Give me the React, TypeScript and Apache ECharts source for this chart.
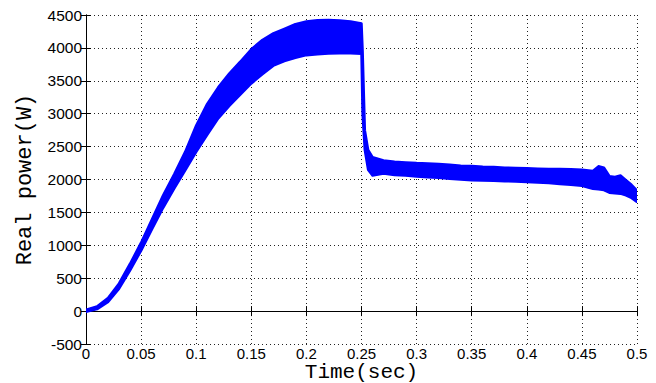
import React, { useEffect, useRef } from "react";
import * as echarts from "echarts";

const timeSec = [
  0, 0.01, 0.02, 0.03, 0.04, 0.05, 0.06, 0.07, 0.08, 0.09, 0.1, 0.11, 0.12, 0.13,
  0.14, 0.15, 0.16, 0.17, 0.18, 0.19, 0.2, 0.21, 0.22, 0.23, 0.24, 0.25, 0.251,
  0.253, 0.256, 0.26, 0.27, 0.28, 0.29, 0.3, 0.31, 0.32, 0.33, 0.34, 0.35, 0.36,
  0.37, 0.38, 0.39, 0.4, 0.41, 0.42, 0.43, 0.44, 0.45, 0.46, 0.465, 0.47, 0.475,
  0.48, 0.485, 0.49, 0.495, 0.5,
];

const lowerPower = [
  -10, 30, 140, 340, 620, 920, 1250, 1570, 1860, 2140, 2420, 2680, 2930, 3120,
  3290, 3460, 3600, 3730, 3800, 3850, 3890, 3905, 3915, 3920, 3920, 3910, 3000,
  2450, 2150, 2060, 2090, 2070, 2060, 2045, 2035, 2025, 2010, 2000, 1990, 1985,
  1980, 1975, 1968, 1962, 1955, 1945, 1930, 1920, 1905, 1860, 1850, 1840, 1800,
  1790, 1785, 1760, 1720, 1660,
];

const upperPower = [
  20, 70, 200, 420, 720, 1040, 1400, 1760, 2080, 2420, 2820, 3150, 3400, 3610,
  3790, 3980, 4120, 4220, 4290, 4360, 4400, 4420, 4425, 4415, 4400, 4370, 3950,
  2750, 2450, 2340, 2290, 2270, 2260, 2250, 2245, 2235, 2225, 2210, 2205, 2195,
  2190, 2180, 2175, 2170, 2165, 2160, 2160, 2155, 2150, 2130, 2200, 2180, 2050,
  2040, 2060, 1990, 1920, 1830,
];

const xTicks = { min: 0, max: 0.5, interval: 0.05 };
const yTicks = { min: -500, max: 4500, interval: 500 };

export default function App() {
  const ref = useRef<HTMLDivElement>(null);

  useEffect(() => {
    if (!ref.current) return;
    const chart = echarts.init(ref.current, undefined, { renderer: "svg" });
    const tickFont = "'Liberation Sans', Arial, sans-serif";
    const titleFont = "'Liberation Mono', 'Courier New', monospace";
    const axisLine = { show: true, lineStyle: { color: "#000", width: 1 } };
    const axisTick = { show: true, inside: true, length: 5, lineStyle: { color: "#000" } };
    const splitLine = {
      show: true,
      lineStyle: { color: "#222", width: 1, type: [1, 3] as any },
    };
    const fmt = (v: number) => String(parseFloat(v.toFixed(2)));

    const bandData = timeSec.map((t, i) => [t, lowerPower[i], upperPower[i]]);

    chart.setOption({
      animation: false,
      backgroundColor: "#fff",
      grid: {
        left: 86,
        right: 19,
        top: 15,
        bottom: 39,
        containLabel: false,
        outerBoundsMode: "none",
      },
      xAxis: [
        {
          type: "value",
          ...xTicks,
          position: "bottom",
          axisLine,
          axisTick,
          splitLine,
          axisLabel: {
            color: "#000",
            fontSize: 15,
            lineHeight: 13,
            fontFamily: tickFont,
            margin: 3,
            formatter: fmt,
            showMinLabel: true,
            showMaxLabel: true,
          },
          name: "Time(sec)",
          nameLocation: "middle",
          nameGap: 20,
          nameMoveOverlap: false,
          nameTextStyle: {
            color: "#000",
            fontSize: 21,
            lineHeight: 16,
            fontFamily: titleFont,
          },
        },
        {
          type: "value",
          ...xTicks,
          position: "top",
          axisLine,
          axisTick,
          splitLine: { show: false },
          axisLabel: { show: false },
        },
      ],
      yAxis: [
        {
          type: "value",
          ...yTicks,
          position: "left",
          axisLine,
          axisTick,
          splitLine,
          axisLabel: {
            color: "#000",
            fontSize: 15.5,
            fontFamily: tickFont,
            margin: 4,
            formatter: (v: number) => String(v),
            showMinLabel: true,
            showMaxLabel: true,
          },
          name: "Real power(W)",
          nameLocation: "middle",
          nameGap: 50,
          nameMoveOverlap: false,
          nameTextStyle: { color: "#000", fontSize: 22, fontFamily: titleFont },
        },
        {
          type: "value",
          ...yTicks,
          position: "right",
          axisLine,
          axisTick,
          splitLine: { show: false },
          axisLabel: { show: false },
        },
      ],
      series: [
        {
          type: "custom",
          clip: true,
          data: bandData,
          encode: { x: 0, y: [1, 2] },
          renderItem: (params: any, api: any) => {
            if (params.dataIndex !== 0) return null;
            const pts: number[][] = [];
            for (let j = 0; j < timeSec.length; j++) {
              pts.push(api.coord([timeSec[j], upperPower[j]]));
            }
            for (let j = timeSec.length - 1; j >= 0; j--) {
              pts.push(api.coord([timeSec[j], lowerPower[j]]));
            }
            return {
              type: "polygon",
              shape: { points: pts },
              style: {
                fill: "#0000ff",
                stroke: "#0000ff",
                lineWidth: 2.5,
                lineJoin: "round",
              },
            };
          },
          z: 3,
        },
      ],
    });
    return () => chart.dispose();
  }, []);

  return (
    <div
      ref={ref}
      style={{ position: "fixed", left: 0, top: 0, width: 656, height: 383, background: "#fff" }}
    />
  );
}
